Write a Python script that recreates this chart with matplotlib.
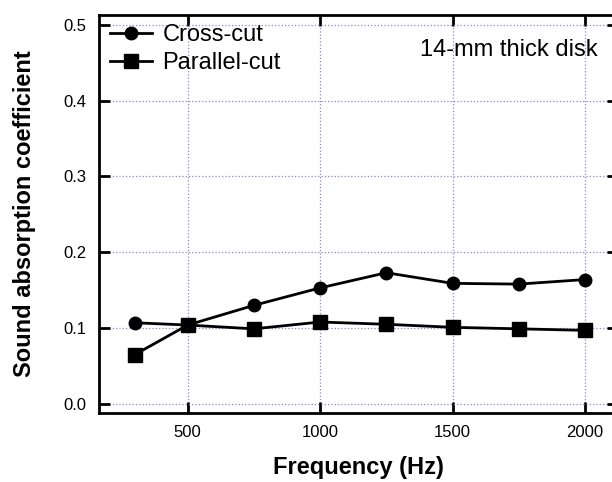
import matplotlib
matplotlib.use("Agg")
import matplotlib.pyplot as plt

plt.rcParams['font.family'] = ['Liberation Sans', 'DejaVu Sans']

freq = [300, 500, 750, 1000, 1250, 1500, 1750, 2000]
cross_cut = [0.107, 0.104, 0.130, 0.153, 0.173, 0.159, 0.158, 0.164]
parallel_cut = [0.065, 0.104, 0.099, 0.108, 0.105, 0.101, 0.099, 0.097]
x_ticks = [500, 1000, 1500, 2000]
y_ticks = [0.0, 0.1, 0.2, 0.3, 0.4, 0.5]

fig = plt.figure(figsize=(6.12, 4.82), dpi=100)
ax = fig.add_axes([0.1618, 0.1432, 0.848, 0.8257])

ax.plot(freq, cross_cut, '-o', color='black', linewidth=2.0,
        markersize=9, label='Cross-cut', zorder=3)
ax.plot(freq, parallel_cut, '-s', color='black', linewidth=2.0,
        markersize=9.5, label='Parallel-cut', zorder=3)

ax.set_xlim(165, 2125)
ax.set_ylim(-0.012, 0.513)
ax.set_xticks(x_ticks)
ax.set_yticks(y_ticks)
ax.set_yticklabels(['%.1f' % v for v in y_ticks])

ax.grid(True, linestyle=':', color='#8585dc', linewidth=0.9)
ax.tick_params(direction='in', length=8, width=2, labelsize=12,
               top=True, right=True, pad=9)
for s in ax.spines.values():
    s.set_linewidth(2)

ax.set_xlabel('Frequency (Hz)', fontsize=17, fontweight='bold', labelpad=11)
ax.set_ylabel('Sound absorption coefficient', fontsize=17,
              fontweight='bold', labelpad=20)

ax.legend(loc='upper left', bbox_to_anchor=(-0.01, 1.018), frameon=False,
          fontsize=17, handlelength=1.75, handletextpad=0.45,
          labelspacing=0.25, borderaxespad=0.3)

ax.text(0.96, 0.913, '14-mm thick disk', transform=ax.transAxes,
        ha='right', va='center', fontsize=17)

fig.savefig('out.png', dpi=100)
